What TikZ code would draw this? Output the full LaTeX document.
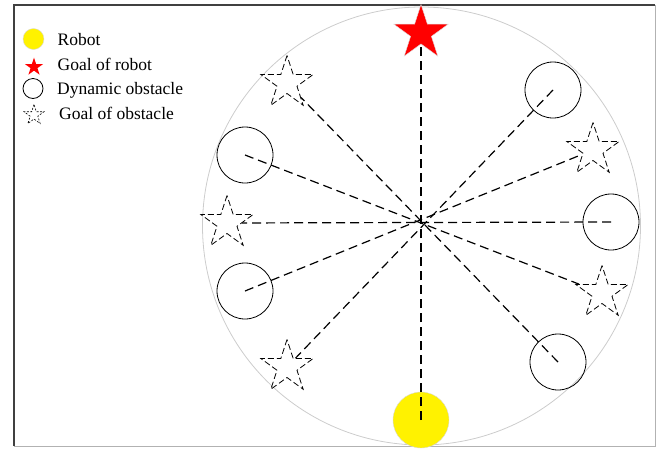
\documentclass[tikz,border=0pt]{standalone}
\usepackage{fontspec}
\setmainfont{Liberation Serif}
\usetikzlibrary{shapes.geometric}

\begin{document}
\begin{tikzpicture}[
    x=1pt, y=-1pt,
    font=\fontsize{17.5}{20}\selectfont,
    robotdot/.style={circle, fill=yellow, draw=gray!30, minimum size=56pt, inner sep=0pt},
    meta/.style={star, star points=5, star point ratio=2.618, fill=red, draw=gray!25,
                 minimum size=57pt, inner sep=0pt},
    obst/.style={circle, draw, line width=0.8pt, minimum size=56pt, inner sep=0pt},
    obstmeta/.style={star, star points=5, star point ratio=2.618, draw, line width=0.8pt,
                     dash pattern=on 6pt off 3pt, minimum size=55pt, inner sep=0pt},
    ruta/.style={draw, line width=1.2pt, dash pattern=on 9pt off 5pt},
    rotulo/.style={anchor=base west, inner sep=0pt}
]
\useasboundingbox (0,0) rectangle (664,448);

% marco y campo
\draw[gray!60, line width=1pt] (14,446) -- (655,446) -- (655,5);
\draw[black!75, line width=1.2pt] (14,446) -- (14,5) -- (655,5);
\draw[gray!40, line width=0.8pt] (421.5,226) circle[radius=219];

% robot y su meta
\node[robotdot] (robot) at (421,420) {};
\node[meta]     (goal)  at (421,33)  {};

% obstaculos dinamicos
\node[obst] (o1) at (611,222) {};
\node[obst] (o2) at (553,90)  {};
\node[obst] (o3) at (245,155) {};
\node[obst] (o4) at (245,291) {};
\node[obst] (o5) at (558,362) {};

% metas de los obstaculos
\node[obstmeta] (g1) at (227,223) {};
\node[obstmeta] (g2) at (287,367) {};
\node[obstmeta] (g3) at (602,293) {};
\node[obstmeta] (g4) at (593,150) {};
\node[obstmeta] (g5) at (287,83)  {};

% trayectos
\draw[ruta] (robot.center) -- (goal);
\foreach \i in {1,...,5}
    \draw[ruta] (o\i.center) -- (g\i);

% leyenda
\node[robotdot, minimum size=21pt]          (lrobot) at (33.5,39) {};
\node[meta, minimum size=19pt, draw=none]   (lgoal)  at (34,67)   {};
\node[obst, minimum size=20pt]              (lobst)  at (33,88.5) {};
\node[obstmeta, minimum size=21pt, line width=0.6pt,
      dash pattern=on 2pt off 1.5pt]        (lmeta)  at (34,115)  {};

\node[rotulo] (trobot) at (57.5,45.7) {Robot};
\node[rotulo] (tgoal)  at (57.5,70.7) {Goal of robot};
\node[rotulo] (tobst)  at (57,94)     {Dynamic obstacle};
\node[rotulo] (tmeta)  at (59,119)    {Goal of obstacle};

\end{tikzpicture}
\end{document}
